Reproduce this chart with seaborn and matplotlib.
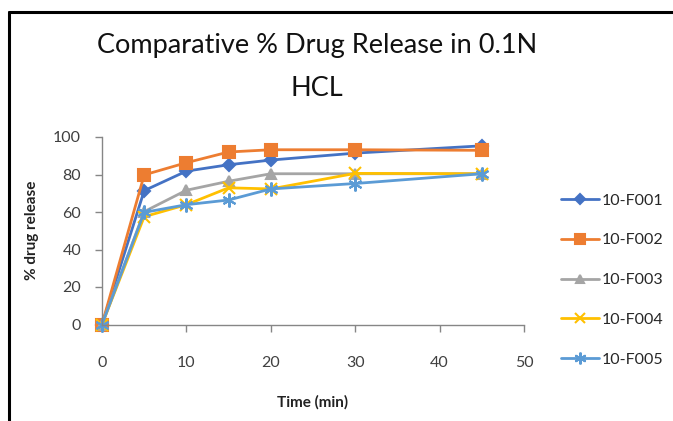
import matplotlib
matplotlib.use("Agg")
import matplotlib.pyplot as plt
import seaborn as sns
import pandas as pd
from matplotlib.lines import Line2D

time_min = [0, 5, 10, 15, 20, 30, 45]
f001 = [0, 71.4, 81.8, 85.2, 87.7, 91.4, 95.3]
f002 = [0, 79.8, 86.3, 92.0, 93.2, 93.2, 92.9]
f003 = [0, 60.2, 71.6, 76.4, 80.4, 80.4, 80.4]
f004 = [0, 57.5, 63.9, 72.9, 72.3, 80.6, 80.4]
f005 = [0, 59.8, 63.9, 66.4, 72.3, 75.2, 80.4]
series_names = ["10-F001", "10-F002", "10-F003", "10-F004", "10-F005"]
colors = ["#4472C4", "#ED7D31", "#A5A5A5", "#FFC000", "#5B9BD5"]
markers = ["D", "s", "^", "x", (6, 2, 0)]
marker_sizes = [6, 8, 7, 8, 10]

rows = []
for name, vals in zip(series_names, [f001, f002, f003, f004, f005]):
    for t, v in zip(time_min, vals):
        rows.append({"Time (min)": t, "% drug release": v, "series": name})
df = pd.DataFrame(rows)

sns.set_theme(style="white")
plt.rcParams['font.family'] = ['Lato', 'DejaVu Sans']

fig = plt.figure(figsize=(6.73, 4.21), dpi=100)
ax = fig.add_axes([102/673, 1-324.5/421, 422/673, 187.5/421])

for name, c, m, ms in zip(series_names, colors, markers, marker_sizes):
    sub = df[df["series"] == name]
    sns.lineplot(data=sub, x="Time (min)", y="% drug release", ax=ax, color=c,
                 marker=m, markersize=ms, linewidth=2.0, markeredgecolor=c,
                 markeredgewidth=1.5, label=name, legend=False, clip_on=False)

ax.set_xlim(0, 50)
ax.set_ylim(0, 100)
ax.set_xticks([0, 10, 20, 30, 40, 50])
ax.set_yticks([0, 20, 40, 60, 80, 100])
for s in ["top", "right"]:
    ax.spines[s].set_visible(False)
for s in ["left", "bottom"]:
    ax.spines[s].set_color("#868686")
    ax.spines[s].set_linewidth(1.0)
ax.tick_params(axis="both", which="both", direction="out", length=5, width=1,
               color="#868686", labelsize=11.5, labelcolor="#404040", pad=10,
               left=True, bottom=True)
ax.tick_params(axis="x", pad=18)
ax.set_xlabel("Time (min)", fontsize=11, fontweight="bold", color="#222222", labelpad=18)
ax.set_ylabel("% drug release", fontsize=11, fontweight="bold", color="#222222", labelpad=10)

handles = [Line2D([0], [0], color=c, marker=m, markersize=ms * 0.85, linewidth=2.0,
                  markeredgecolor=c, markeredgewidth=1.5)
           for c, m, ms in zip(colors, markers, marker_sizes)]
fig.legend(handles, series_names, loc="center left",
           bbox_to_anchor=(561/673, 1-280/421), frameon=False, fontsize=11.5,
           handlelength=2.4, handletextpad=0.15, labelspacing=1.6,
           borderpad=0, borderaxespad=0)

fig.text(317/673, 1-67/421, "Comparative % Drug Release in 0.1N\nHCL",
         ha="center", va="center", fontsize=19.5, color="#111111", linespacing=1.9)

# outer frame lines (left and top)
fig.add_artist(Line2D([9/673, 9/673], [0, 1-12/421], color="black", linewidth=2.2,
                      transform=fig.transFigure))
fig.add_artist(Line2D([9/673, 1], [1-12/421, 1-12/421], color="black", linewidth=2.2,
                      transform=fig.transFigure))

fig.savefig("out.png", dpi=100)
